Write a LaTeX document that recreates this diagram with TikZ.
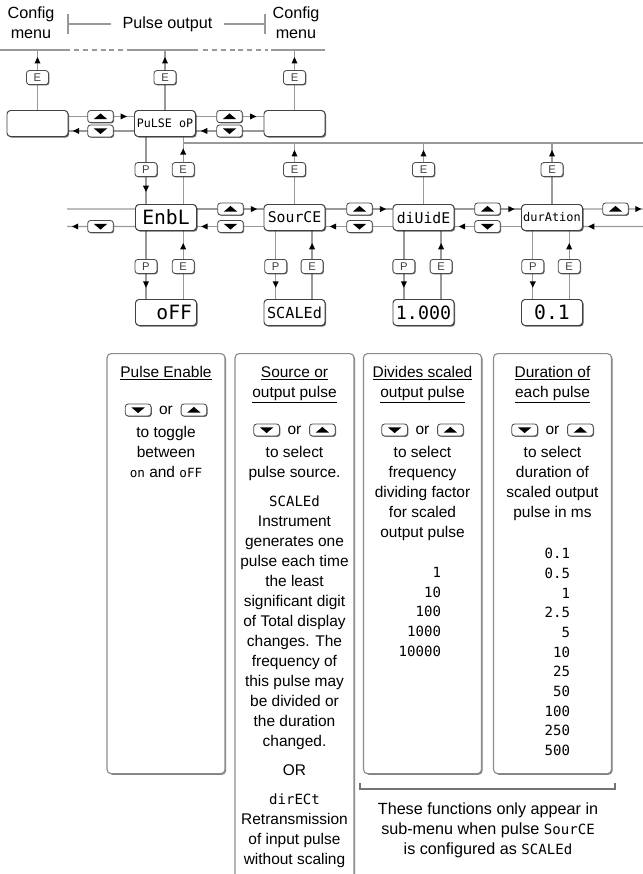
\documentclass[tikz,border=0pt]{standalone}
\usepackage{fontspec}
\setmainfont{Liberation Sans}
\newfontfamily\lcd{DejaVu Sans Mono}
\usepackage{tikz}
\usetikzlibrary{arrows.meta, positioning, calc, shadows, decorations.markings}
\pgfdeclarelayer{background}
\pgfsetlayers{background,main}
\newcommand{\fsz}[2]{\fontsize{#1}{#2}\selectfont}

\begin{document}
\begin{tikzpicture}[x=0.025cm, y=-0.025cm, font=\fsz{11}{14.2}]
\tikzstyle{disp} = [rectangle, draw=black!75, fill=white, rounded corners=2.5pt, minimum width=1.525cm, minimum height=0.65cm, inner sep=0pt, line width=0.7pt, font=\lcd, drop shadow={shadow xshift=0.8pt, shadow yshift=-0.8pt, fill=black, opacity=0.6}]
\tikzstyle{btn} = [rectangle, draw=black!70, fill=white, rounded corners=2pt, minimum width=0.55cm, minimum height=0.35cm, inner sep=0pt, line width=0.6pt, text=black!75, font=\fsz{8}{8}, drop shadow={shadow xshift=0.6pt, shadow yshift=-0.6pt, fill=black, opacity=0.6}]
\tikzstyle{upbtn} = [btn, minimum width=0.64cm, minimum height=0.3cm, path picture={\fill[black, sharp corners] ([xshift=-4.8pt,yshift=-1.9pt]path picture bounding box.center) -- ([xshift=4.8pt,yshift=-1.9pt]path picture bounding box.center) -- ([yshift=2.2pt]path picture bounding box.center) -- cycle;}]
\tikzstyle{dnbtn} = [btn, minimum width=0.64cm, minimum height=0.3cm, path picture={\fill[black, sharp corners] ([xshift=-4.8pt,yshift=1.9pt]path picture bounding box.center) -- ([xshift=4.8pt,yshift=1.9pt]path picture bounding box.center) -- ([yshift=-2.2pt]path picture bounding box.center) -- cycle;}]
\tikzstyle{panel} = [rectangle, draw=black!45, fill=white, rounded corners=3pt, line width=0.8pt, minimum width=2.95cm, anchor=north, drop shadow={shadow xshift=0.8pt, shadow yshift=-0.8pt, fill=black, opacity=0.5}]
\tikzstyle{line} = [draw, black!40, line width=0.9pt]
\tikzset{tipat/.style={postaction=decorate, decoration={markings, mark=at position #1 with {\arrow{Triangle[width=4pt, length=4.5pt, color=black]}}}}}

\useasboundingbox (0,0) rectangle (643,874);

% top row
\node (prev) [disp] at (37.5,123.5) {};
\node (pulse) [disp, font=\lcd\fsz{8.3}{9}] at (165,123.5) {PuLSE oP};
\node (next) [disp] at (294.5,123.5) {};
\node (prev-e) [btn, above=0.625cm of prev] {E};
\node (pulse-e) [btn, above=0.625cm of pulse] {E};
\node (next-e) [btn, above=0.625cm of next] {E};
\node (k1up) [upbtn] at (100.5,116.5) {};
\node (k1dn) [dnbtn] at (100.5,131) {};
\node (k2up) [upbtn] at (229.5,116.5) {};
\node (k2dn) [dnbtn] at (229.5,131) {};

\node (cfg-l) [align=center, font=\fsz{11.5}{14.2}] at (31,23) {Config\\menu};
\node (cfg-r) [align=center, font=\fsz{11.5}{14.2}] at (296,23) {Config\\menu};
\node (po) [font=\fsz{11.5}{14.2}] at (167.5,24) {Pulse output};

% sub-menu row
\node (enbl) [disp, font=\lcd\fsz{14}{14}] at (166,217.5) {EnbL};
\node (source) [disp, font=\lcd\fsz{10.5}{11}] at (294.5,217.5) {SourCE};
\node (divide) [disp, font=\lcd\fsz{10.5}{11}] at (423.5,217.5) {diUidE};
\node (durat) [disp, font=\lcd\fsz{8.5}{9}] at (552,217.5) {durAtion};
\node (enbl-p) [btn, above=0.675cm of enbl, xshift=-0.5cm] {P};
\node (enbl-e) [btn, above=0.675cm of enbl, xshift=0.43cm] {E};
\node (source-e) [btn, above=0.675cm of source] {E};
\node (divide-e) [btn, above=0.675cm of divide] {E};
\node (durat-e) [btn, above=0.675cm of durat] {E};
\node (k3dn) [dnbtn] at (100.5,226.5) {};
\node (k4up) [upbtn] at (230.5,209) {};
\node (k4dn) [dnbtn] at (230.5,226.5) {};
\node (k5up) [upbtn] at (359.5,209) {};
\node (k5dn) [dnbtn] at (359.5,226.5) {};
\node (k6up) [upbtn] at (487.5,209) {};
\node (k6dn) [dnbtn] at (487.5,226.5) {};
\node (k7up) [upbtn] at (615.5,209) {};

% values
\node (off) [disp, font=\lcd\fsz{14}{14}, text width=1.3cm, align=right] at (166,312.5) {oFF};
\node (scaled) [disp, font=\lcd\fsz{10.8}{11}] at (294.5,312.5) {SCALEd};
\node (factor) [disp, font=\lcd\fsz{13}{13}] at (423.5,312.5) {1.000};
\node (pwidth) [disp, font=\lcd\fsz{14}{14}] at (552,312.5) {0.1};
\node (off-p) [btn, below=0.7cm of enbl, xshift=-0.5cm] {P};
\node (off-e) [btn, below=0.7cm of enbl, xshift=0.43cm] {E};
\node (scaled-p) [btn, below=0.7cm of source, xshift=-0.47cm] {P};
\node (scaled-e) [btn, below=0.7cm of source, xshift=0.44cm] {E};
\node (factor-p) [btn, below=0.7cm of divide, xshift=-0.49cm] {P};
\node (factor-e) [btn, below=0.7cm of divide, xshift=0.44cm] {E};
\node (pwidth-p) [btn, below=0.7cm of durat, xshift=-0.48cm] {P};
\node (pwidth-e) [btn, below=0.7cm of durat, xshift=0.43cm] {E};

\coordinate (brk-l) at (68,24);
\coordinate (brk-r) at (265,24);
\coordinate (exit-l) at (prev.north |- 0,50);
\coordinate (exit-c) at (pulse.north |- 0,50);
\coordinate (exit-r) at (next.north |- 0,50);
\coordinate (ret-r) at (643,143);
\coordinate (wrap-lu) at (67,209);
\coordinate (wrap-ld) at (67,226.5);
\coordinate (wrap-ru) at (643,209);
\coordinate (wrap-rd) at (643,226.5);

\begin{pgfonlayer}{background}
    % exits to the configuration menu
    \draw [line] (0,50) -- (70,50);
    \draw [line, dash pattern=on 3.5pt off 2.8pt] (74,50) -- (132,50);
    \draw [line] (132,50) -- (198,50);
    \draw [line, dash pattern=on 3.5pt off 2.8pt] (203,50) -- (268,50);
    \draw [line] (271,50) -- (325,50);
    \draw [line] (68,14) -- (68,34);
    \draw [line] (265,14) -- (265,34);
    \draw [line, shorten >=5pt] (brk-l) -- (po);
    \draw [line, shorten >=5pt] (brk-r) -- (po);
    \draw [line, tipat=-5pt] (prev.north) -- (exit-l);
    \draw [line, tipat=-5pt] (pulse.north) -- (exit-c);
    \draw [line, tipat=-5pt] (next.north) -- (exit-r);

    \draw [line, tipat=-5pt] ([yshift=5pt]prev.east) -- ([yshift=5pt]pulse.west);
    \draw [line, tipat=-3pt] ([yshift=-5.3pt]pulse.west) -- ([yshift=-5.3pt]prev.east);
    \draw [line, tipat=-5pt] ([yshift=5pt]pulse.east) -- ([yshift=5pt]next.west);
    \draw [line, tipat=-3.5pt] ([yshift=-5.3pt]next.west) -- ([yshift=-5.3pt]pulse.east);

    % into and out of the sub-menu
    \draw [line, tipat=-8.5pt] (enbl-p |- pulse.south) -- (enbl-p |- enbl.north);
    \draw [line, tipat=-8pt] (enbl-e |- enbl.north) -- (enbl-e |- pulse.south);
    \draw [line] (enbl-e |- ret-r) -- (ret-r);
    \draw [line, tipat=-5pt] (source.north) -- (source-e |- ret-r);
    \draw [line, tipat=-5pt] (divide.north) -- (divide-e |- ret-r);
    \draw [line, tipat=-5pt] (durat.north) -- (durat-e |- ret-r);

    \draw [line] (wrap-lu) -- ([yshift=6pt]enbl.west);
    \draw [line, tipat=-3.5pt] ([yshift=-6.4pt]enbl.west) -- (wrap-ld);
    \draw [line, tipat=-4.5pt] ([yshift=6pt]enbl.east) -- ([yshift=6pt]source.west);
    \draw [line, tipat=-3pt] ([yshift=-6.4pt]source.west) -- ([yshift=-6.4pt]enbl.east);
    \draw [line, tipat=-4.5pt] ([yshift=6pt]source.east) -- ([yshift=6pt]divide.west);
    \draw [line, tipat=-3pt] ([yshift=-6.4pt]divide.west) -- ([yshift=-6.4pt]source.east);
    \draw [line, tipat=-4.5pt] ([yshift=6pt]divide.east) -- ([yshift=6pt]durat.west);
    \draw [line, tipat=-3pt] ([yshift=-6.4pt]durat.west) -- ([yshift=-6.4pt]divide.east);
    \draw [line, tipat=-1pt] ([yshift=6pt]durat.east) -- (wrap-ru);
    \draw [line, tipat=-3.5pt] (wrap-rd) -- ([yshift=-6.4pt]durat.east);

    % values
    \draw [line, tipat=-8pt] (off-p |- enbl.south) -- (off-p |- off.north);
    \draw [line, tipat=-8.5pt] (off-e |- off.north) -- (off-e |- enbl.south);
    \draw [line, tipat=-8pt] (scaled-p |- source.south) -- (scaled-p |- scaled.north);
    \draw [line, tipat=-8.5pt] (scaled-e |- scaled.north) -- (scaled-e |- source.south);
    \draw [line, tipat=-8pt] (factor-p |- divide.south) -- (factor-p |- factor.north);
    \draw [line, tipat=-8.5pt] (factor-e |- factor.north) -- (factor-e |- divide.south);
    \draw [line, tipat=-8pt] (pwidth-p |- durat.south) -- (pwidth-p |- pwidth.north);
    \draw [line, tipat=-8.5pt] (pwidth-e |- pwidth.north) -- (pwidth-e |- durat.south);
\end{pgfonlayer}

% help panels (multi-line texts sit on the baseline of their last line)
\node (en-panel) [panel, minimum height=10.5cm] at (166,353) {};
\node (src-panel) [panel, minimum width=2.975cm, minimum height=13.5cm] at (294.5,353) {};
\node (div-panel) [panel, minimum height=10.5cm] at (422.5,353) {};
\node (dur-panel) [panel, minimum height=10.5cm] at (552.5,353) {};

\node (en-title) [anchor=base] at (166,377) {\underline{Pulse Enable}};
\node (en-or) at (166,410) {or};
\node (en-dn) [dnbtn, left=2pt of en-or] {};
\node (en-up) [upbtn, right=2pt of en-or] {};
\node (en-text) [anchor=base, align=center] at (166,477) {to toggle\\between\\{\lcd\fsz{9}{9}on} and {\lcd\fsz{9}{9}oFF}};

\node (src-title) [anchor=base, align=center] at (294.5,397) {\underline{Source or}\\\underline{output pulse}};
\node (src-or) at (294.5,430) {or};
\node (src-dn) [dnbtn, left=2pt of src-or] {};
\node (src-up) [upbtn, right=2pt of src-or] {};
\node (src-text) [anchor=base, align=center] at (294.5,477) {to select\\pulse source.};
\node (src-scl) [anchor=base, font=\lcd\fsz{10}{10}] at (294.5,506) {SCALEd};
\node (src-scl-text) [anchor=base, align=center] at (294.5,746) {Instrument\\generates one\\pulse each time\\the least\\significant digit\\of Total display\\changes. The\\frequency of\\this pulse may\\be divided or\\the duration\\changed.};
\node (src-or2) [anchor=base] at (294.5,775) {OR};
\node (src-dir) [anchor=base, font=\lcd\fsz{10}{10}] at (294.5,804) {dirECt};
\node (src-dir-text) [anchor=base, align=center] at (294.5,864) {Retransmission\\of input pulse\\without scaling};

\node (div-title) [anchor=base, align=center] at (422.5,397) {\underline{Divides scaled}\\\underline{output pulse}};
\node (div-or) at (422.5,430) {or};
\node (div-dn) [dnbtn, left=2pt of div-or] {};
\node (div-up) [upbtn, right=2pt of div-or] {};
\node (div-text) [anchor=base, align=center] at (422.5,537) {to select\\frequency\\dividing factor\\for scaled\\output pulse};
\node (div-vals) [anchor=base east, align=right, font=\lcd\fsz{10}{13.9}] at (446,656) {1\\10\\100\\1000\\10000};

\node (dur-title) [anchor=base, align=center] at (552.5,397) {\underline{Duration of}\\\underline{each pulse}};
\node (dur-or) at (552.5,430) {or};
\node (dur-dn) [dnbtn, left=2pt of dur-or] {};
\node (dur-up) [upbtn, right=2pt of dur-or] {};
\node (dur-text) [anchor=base, align=center] at (552.5,517) {to select\\duration of\\scaled output\\pulse in ms};
\node (dur-vals) [anchor=base east, align=right, font=\lcd\fsz{10}{14}] at (575,755.5) {0.1\\0.5\\1\\2.5\\5\\10\\25\\50\\100\\250\\500};

% scaled-only note
\draw [line, black!55] (360,783) -- (360,789) -- (615,789) -- (615,783);
\node (note) [align=center, font=\fsz{11.5}{14.2}] at (488,830) {These functions only appear in\\sub-menu when pulse {\lcd\fsz{10}{10}SourCE}\\is configured as {\lcd\fsz{10}{10}SCALEd}};
\end{tikzpicture}
\end{document}
